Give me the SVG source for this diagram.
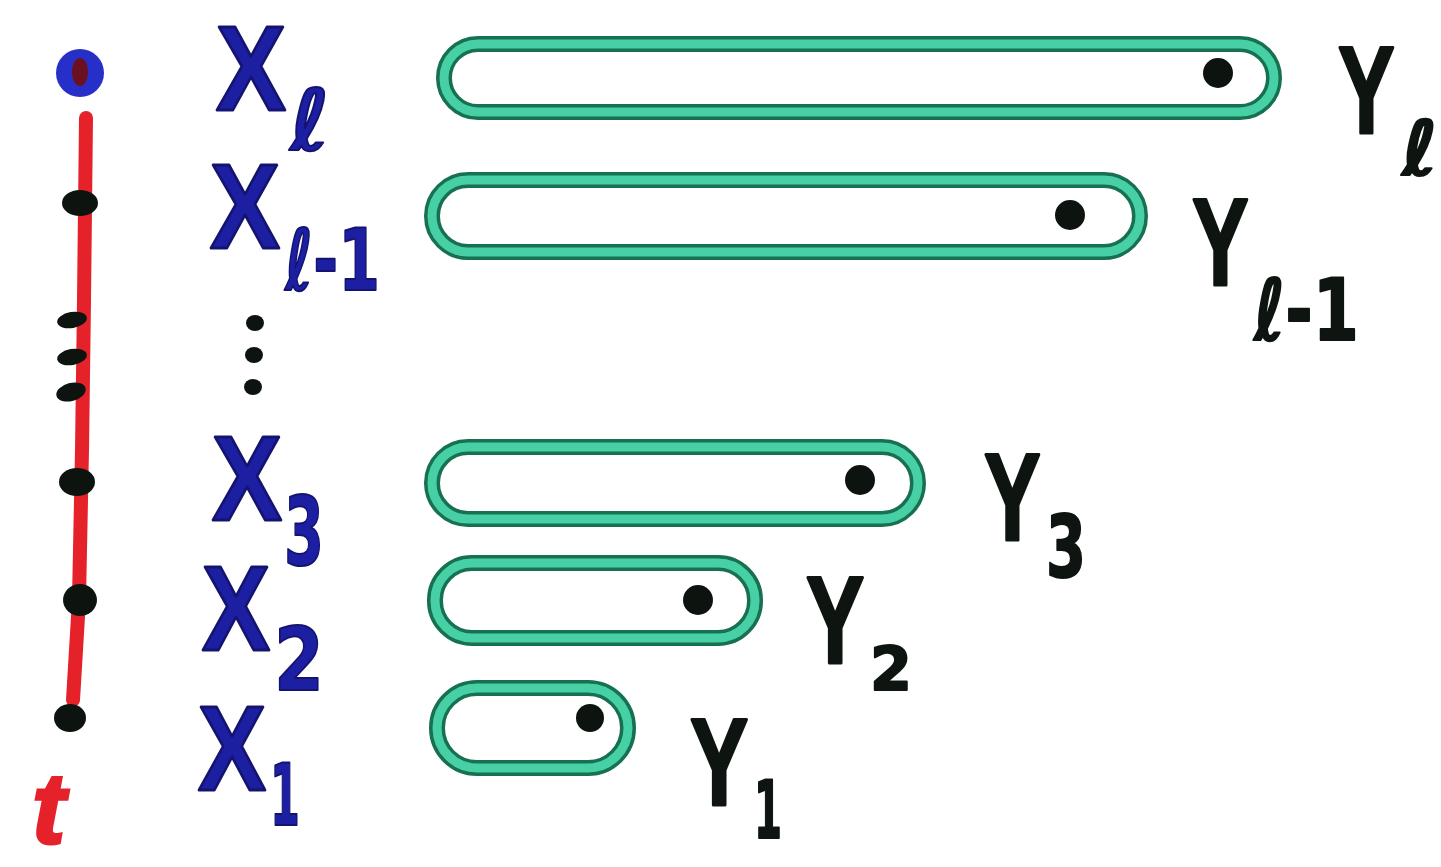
<svg xmlns="http://www.w3.org/2000/svg" width="1441" height="867" viewBox="0 0 1441 867">
<defs>
<style>
.xl{font-family:"Liberation Sans",Arial,sans-serif;font-weight:bold;font-size:120px;fill:#1d1fa3;stroke:#141470;stroke-width:3;stroke-linejoin:round}
.xs{font-family:"DejaVu Sans","Liberation Sans",sans-serif;font-weight:bold;fill:#1d1fa3;stroke:#141470;stroke-width:2;stroke-linejoin:round}
.yl{font-family:"Liberation Sans",Arial,sans-serif;font-weight:bold;font-size:125px;fill:#0e140f;stroke:#0e140f;stroke-width:3;stroke-linejoin:round}
.ys{font-family:"DejaVu Sans","Liberation Sans",sans-serif;font-weight:bold;fill:#0e140f;stroke:#0e140f;stroke-width:2;stroke-linejoin:round}
.loopo{fill:none;stroke:#17704f;stroke-width:16}
.loopi{fill:none;stroke:#47d0a5;stroke-width:9}
.dot{fill:#0d140f}
</style>
</defs>
<rect width="1441" height="867" fill="#ffffff"/>
<g id="connectors">
<polyline points="86,118 84,300 82,450 79,600 73,700" fill="none" stroke="#e5222a" stroke-width="14" stroke-linecap="round"/>
</g>
<g id="node-s">
<circle cx="80" cy="73" r="24" fill="#2630c8"/>
<ellipse cx="80" cy="72" rx="8" ry="14" fill="#6a1020"/>
</g>
<g id="path-dots">
<ellipse cx="80" cy="203" rx="18" ry="13" class="dot"/>
<ellipse cx="72" cy="320" rx="15" ry="8" class="dot" transform="rotate(-10 72 320)"/>
<ellipse cx="72" cy="357" rx="15" ry="8" class="dot" transform="rotate(-10 72 357)"/>
<ellipse cx="71" cy="392" rx="15" ry="9" class="dot" transform="rotate(-15 71 392)"/>
<ellipse cx="77" cy="482" rx="18" ry="14" class="dot"/>
<ellipse cx="80" cy="600" rx="17" ry="16" class="dot"/>
<ellipse cx="70" cy="718" rx="16" ry="14" class="dot"/>
</g>
<g id="node-t">
<text x="32" y="843" font-family="Liberation Sans, Arial, sans-serif" font-weight="bold" font-style="italic" font-size="100" fill="#e5222a" stroke="#e5222a" stroke-width="3">t</text>
</g>
<g id="labels-x">
<text class="xl" x="216" y="110" textLength="70" lengthAdjust="spacingAndGlyphs">X</text><text class="xs" x="290" y="150" font-size="85">ℓ</text>
<text class="xl" x="210" y="248" textLength="70" lengthAdjust="spacingAndGlyphs">X</text><text class="xs" x="285" y="290" font-size="85" textLength="95" lengthAdjust="spacingAndGlyphs">ℓ-1</text>
<g class="dot"><ellipse cx="255" cy="323" rx="9" ry="8"/><ellipse cx="254" cy="355" rx="9" ry="8"/><ellipse cx="253" cy="387" rx="9" ry="8"/></g>
<text class="xl" x="212" y="520" textLength="70" lengthAdjust="spacingAndGlyphs">X</text><text class="xs" x="284" y="565" font-size="95" textLength="40" lengthAdjust="spacingAndGlyphs">3</text>
<text class="xl" x="202" y="650" textLength="68" lengthAdjust="spacingAndGlyphs">X</text><text class="xs" x="274" y="690" font-size="88" textLength="50" lengthAdjust="spacingAndGlyphs">2</text>
<text class="xl" x="198" y="790" textLength="68" lengthAdjust="spacingAndGlyphs">X</text><text class="xs" x="270" y="825" font-size="85" textLength="30" lengthAdjust="spacingAndGlyphs">1</text>
</g>
<g id="loop-l"><rect x="444" y="44" width="830" height="68" rx="34" class="loopo"/><rect x="444" y="44" width="830" height="68" rx="34" class="loopi"/><circle cx="1218" cy="73" r="15" class="dot"/></g>
<g id="loop-l-1"><rect x="432" y="180" width="708" height="72" rx="36" class="loopo"/><rect x="432" y="180" width="708" height="72" rx="36" class="loopi"/><circle cx="1070" cy="215" r="15" class="dot"/></g>
<g id="loop-3"><rect x="432" y="447" width="486" height="72" rx="36" class="loopo"/><rect x="432" y="447" width="486" height="72" rx="36" class="loopi"/><circle cx="860" cy="480" r="15" class="dot"/></g>
<g id="loop-2"><rect x="435" y="563" width="320" height="75" rx="37" class="loopo"/><rect x="435" y="563" width="320" height="75" rx="37" class="loopi"/><circle cx="698" cy="600" r="15" class="dot"/></g>
<g id="loop-1"><rect x="437" y="688" width="191" height="80" rx="40" class="loopo"/><rect x="437" y="688" width="191" height="80" rx="40" class="loopi"/><circle cx="590" cy="718" r="14" class="dot"/></g>
<g id="labels-y">
<text class="yl" transform="translate(1338 133) scale(0.68 1)">Y</text><text class="ys" x="1402" y="175" font-size="76">ℓ</text>
<text class="yl" transform="translate(1192 285) scale(0.68 1)">Y</text><text class="ys" x="1254" y="340" font-size="85" textLength="105" lengthAdjust="spacingAndGlyphs">ℓ-1</text>
<text class="yl" transform="translate(984 540) scale(0.68 1)">Y</text><text class="ys" x="1046" y="577" font-size="85" textLength="40" lengthAdjust="spacingAndGlyphs">3</text>
<text class="yl" transform="translate(806 663) scale(0.7 1)">Y</text><text class="ys" x="870" y="690" font-size="60" textLength="42" lengthAdjust="spacingAndGlyphs">2</text>
<text class="yl" transform="translate(690 805) scale(0.7 1)">Y</text><text class="ys" x="754" y="838" font-size="80" textLength="28" lengthAdjust="spacingAndGlyphs">1</text>
</g>
</svg>
